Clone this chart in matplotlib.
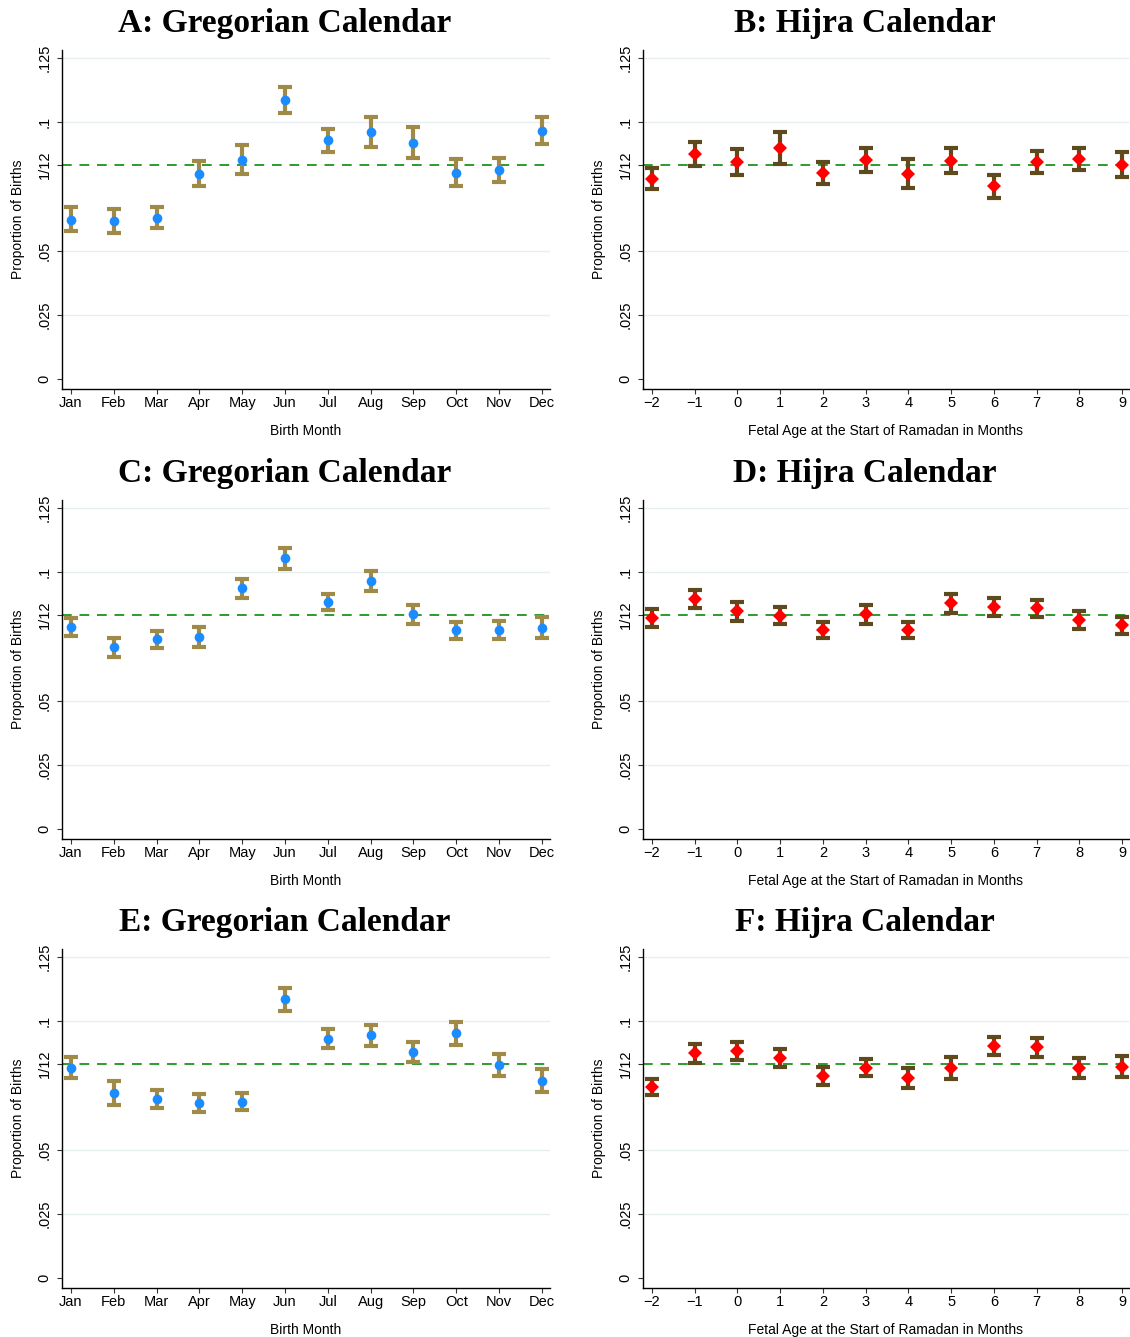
import numpy as np
import matplotlib
matplotlib.use("Agg")
import matplotlib.pyplot as plt

# Month labels and fetal-age labels
months = ['Jan', 'Feb', 'Mar', 'Apr', 'May', 'Jun', 'Jul', 'Aug', 'Sep', 'Oct', 'Nov', 'Dec']
fetal_ages = [-2, -1, 0, 1, 2, 3, 4, 5, 6, 7, 8, 9]

# Panel A: Gregorian
a_mean = [0.0620, 0.0614, 0.0627, 0.0798, 0.0854, 0.1086, 0.0929, 0.0961, 0.0920, 0.0802, 0.0814, 0.0967]
a_hi = [0.0670, 0.0663, 0.0668, 0.0849, 0.0910, 0.1138, 0.0974, 0.1019, 0.0983, 0.0857, 0.0862, 0.1020]
a_lo = [0.0575, 0.0569, 0.0588, 0.0750, 0.0798, 0.1036, 0.0884, 0.0903, 0.0859, 0.0752, 0.0766, 0.0914]

# Panel B: Hijra
b_mean = [0.0780, 0.0876, 0.0846, 0.0898, 0.0803, 0.0854, 0.0798, 0.0850, 0.0752, 0.0844, 0.0857, 0.0835]
b_hi = [0.0823, 0.0924, 0.0897, 0.0961, 0.0846, 0.0901, 0.0857, 0.0898, 0.0796, 0.0888, 0.0901, 0.0884]
b_lo = [0.0739, 0.0828, 0.0794, 0.0837, 0.0759, 0.0807, 0.0742, 0.0802, 0.0706, 0.0801, 0.0813, 0.0788]

# Panel C: Gregorian
c_mean = [0.0787, 0.0707, 0.0739, 0.0746, 0.0938, 0.1054, 0.0884, 0.0967, 0.0836, 0.0774, 0.0774, 0.0784]
c_hi = [0.0823, 0.0745, 0.0772, 0.0785, 0.0975, 0.1096, 0.0916, 0.1006, 0.0874, 0.0807, 0.0809, 0.0826]
c_lo = [0.0753, 0.0670, 0.0705, 0.0709, 0.0901, 0.1012, 0.0852, 0.0928, 0.0798, 0.0740, 0.0738, 0.0745]

# Panel D: Hijra
d_mean = [0.0820, 0.0897, 0.0848, 0.0831, 0.0776, 0.0836, 0.0774, 0.0879, 0.0864, 0.0859, 0.0814, 0.0793]
d_hi = [0.0855, 0.0932, 0.0885, 0.0863, 0.0806, 0.0874, 0.0806, 0.0916, 0.0900, 0.0893, 0.0848, 0.0826]
d_lo = [0.0787, 0.0862, 0.0810, 0.0798, 0.0745, 0.0800, 0.0742, 0.0841, 0.0829, 0.0825, 0.0779, 0.0761]

# Panel E: Gregorian
e_mean = [0.0819, 0.0720, 0.0696, 0.0681, 0.0686, 0.1085, 0.0932, 0.0945, 0.0881, 0.0952, 0.0830, 0.0768]
e_hi = [0.0860, 0.0768, 0.0733, 0.0716, 0.0719, 0.1130, 0.0971, 0.0985, 0.0920, 0.0998, 0.0873, 0.0812]
e_lo = [0.0778, 0.0673, 0.0660, 0.0646, 0.0653, 0.1041, 0.0895, 0.0904, 0.0842, 0.0908, 0.0787, 0.0724]

# Panel F: Hijra
f_mean = [0.0742, 0.0877, 0.0884, 0.0856, 0.0786, 0.0819, 0.0778, 0.0819, 0.0904, 0.0899, 0.0817, 0.0821]
f_hi = [0.0773, 0.0913, 0.0919, 0.0890, 0.0821, 0.0851, 0.0816, 0.0860, 0.0938, 0.0936, 0.0858, 0.0863]
f_lo = [0.0711, 0.0839, 0.0847, 0.0822, 0.0752, 0.0786, 0.0739, 0.0774, 0.0869, 0.0862, 0.0777, 0.0783]

ytick_vals = [0, 0.025, 0.05, 1 / 12, 0.1, 0.125]
ytick_labels = ['0', '.025', '.05', '1/12', '.1', '.125']

plt.rcParams['font.family'] = ['Liberation Sans', 'DejaVu Sans']

fig = plt.figure(figsize=(11.30, 13.37), dpi=100)

W, H = 1130.0, 1337.0


def make_axes(left_px, top_px, right_px, bottom_px):
    return fig.add_axes([left_px / W, 1 - bottom_px / H,
                         (right_px - left_px) / W, (bottom_px - top_px) / H])


def draw_panel(ax, title, mean, hi, lo, hijra):
    if hijra:
        x = np.array(fetal_ages)
        err_col = '#5e4a1c'
        mk_col = '#ff0000'
        marker = 'D'
        ms = 7
        xlabel = 'Fetal Age at the Start of Ramadan in Months'
        ax.set_xlim(-2.21, 9.16)
        ax.set_xticks(fetal_ages)
        ax.set_xticklabels([str(v).replace('-', '\u2212') for v in fetal_ages])
    else:
        x = np.arange(1, 13)
        err_col = '#a08a48'
        mk_col = '#1a8cff'
        marker = 'o'
        ms = 7
        xlabel = 'Birth Month'
        ax.set_xlim(0.79, 12.19)
        ax.set_xticks(x)
        ax.set_xticklabels(months)

    mean = np.array(mean)
    hi = np.array(hi)
    lo = np.array(lo)

    # light grid lines
    for gy in [0.025, 0.05, 0.1, 0.125]:
        ax.axhline(gy, color='#e6eef0', lw=1, zorder=0)
    # reference line at 1/12
    ax.axhline(1 / 12, color='#2e9a2e', lw=1.4, ls=(0, (5, 4)), zorder=1)

    ax.errorbar(x, mean, yerr=[mean - lo, hi - mean], fmt='none',
                ecolor=err_col, elinewidth=3, capsize=5, capthick=3, zorder=2)
    ax.plot(x, mean, ls='none', marker=marker, color=mk_col, ms=ms,
            markeredgewidth=0, zorder=3)

    ax.set_ylim(-0.0039, 0.1281)
    ax.set_yticks(ytick_vals)
    ax.set_yticklabels(ytick_labels, rotation=90, va='center')
    ax.set_ylabel('Proportion of Births', fontsize=10, labelpad=9)
    ax.set_xlabel(xlabel, fontsize=10, labelpad=10)
    ax.tick_params(axis='both', labelsize=10.5, length=3.6, width=0.8, color='#333333')
    ax.tick_params(axis='x', pad=1.5)
    ax.tick_params(axis='y', pad=4)

    for side in ['top', 'right']:
        ax.spines[side].set_visible(False)
    ax.spines['left'].set_linewidth(1.0)
    ax.spines['bottom'].set_linewidth(1.0)

    ax.set_title(title, x=0.457, pad=13, fontsize=24, fontweight='bold',
                 family=['Liberation Serif', 'DejaVu Serif'])


panels = [
    ('A: Gregorian Calendar', a_mean, a_hi, a_lo, False),
    ('B: Hijra Calendar', b_mean, b_hi, b_lo, True),
    ('C: Gregorian Calendar', c_mean, c_hi, c_lo, False),
    ('D: Hijra Calendar', d_mean, d_hi, d_lo, True),
    ('E: Gregorian Calendar', e_mean, e_hi, e_lo, False),
    ('F: Hijra Calendar', f_mean, f_hi, f_lo, True),
]

row_offsets = [0, 450, 899]
for i, (title, m, h, l, hijra) in enumerate(panels):
    off = row_offsets[i // 2]
    if hijra:
        ax = make_axes(643, 50 + off, 1129, 389 + off)
    else:
        ax = make_axes(62, 50 + off, 550, 389 + off)
    draw_panel(ax, title, m, h, l, hijra)

fig.savefig('out.png', dpi=100, facecolor='white')
